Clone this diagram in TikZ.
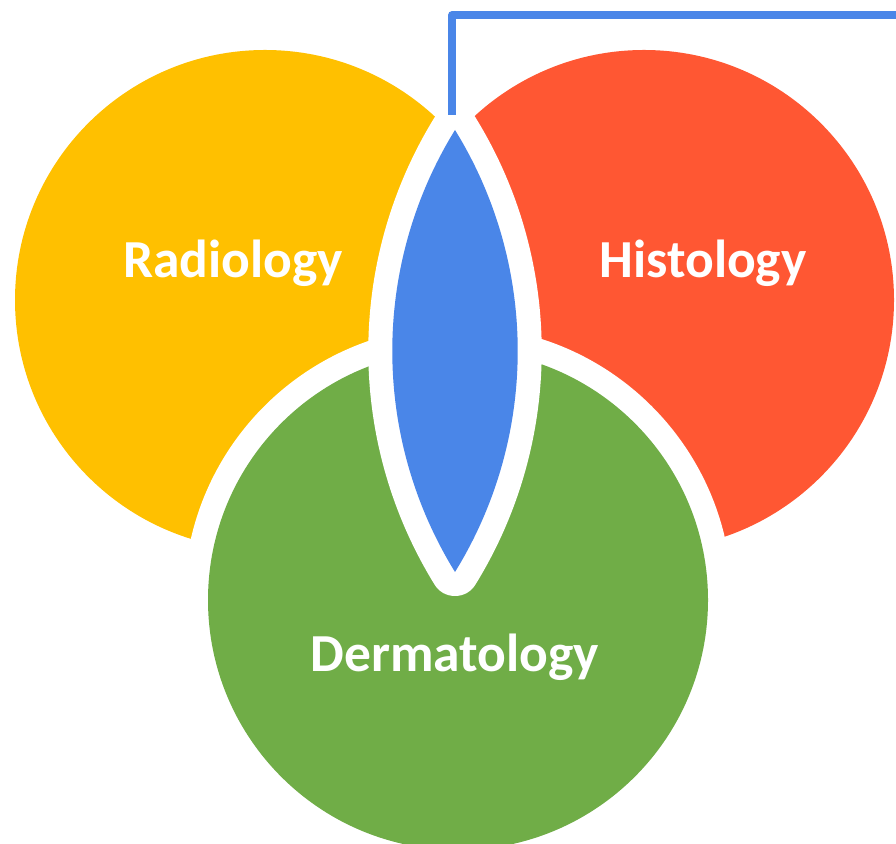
\documentclass[tikz,border=0pt]{standalone}
\usepackage{fontspec}
\setmainfont{Carlito}
\definecolor{radyellow}{HTML}{FFC000}
\definecolor{histred}{HTML}{FF5733}
\definecolor{dermgreen}{HTML}{70AD47}
\definecolor{lensblue}{HTML}{4A86E8}
\begin{document}
\begin{tikzpicture}[x=1pt,y=1pt,
  ringtext/.style={text=white,font=\bfseries\fontsize{53.5}{62}\selectfont,anchor=base,inner sep=0pt},
  lensfill/.style={fill=lensblue,preaction={draw=white,fill=white,line width=48,line join=round}},
  link/.style={draw=lensblue,line width=7.5,line join=round}]
\useasboundingbox (0,0) rectangle (896,843);
% the two upper circles
\fill[radyellow] (265,543) circle[radius=250];
\fill[histred] (644,543) circle[radius=250];
% lower circle with its white rim
\fill[white] (458,243) circle[radius=274];
\fill[dermgreen] (458,243) circle[radius=250];
% central lens with its white rim
\path[lensfill] (455,713)
  arc[start angle=31.69,end angle=-31.69,radius=420.7]
  arc[start angle=211.69,end angle=148.31,radius=420.7] -- cycle;
% labels
\node[ringtext] (rad) at (233,565) {Radiology};
\node[ringtext] (hist) at (703,565) {Histology};
\node[ringtext] (derm) at (455,171) {Dermatology};
% connector leaving the lens tip
\coordinate (lenstop) at (452,728);
\coordinate (edge) at (896,828);
\draw[link] (lenstop) |- (edge);
\end{tikzpicture}
\end{document}
